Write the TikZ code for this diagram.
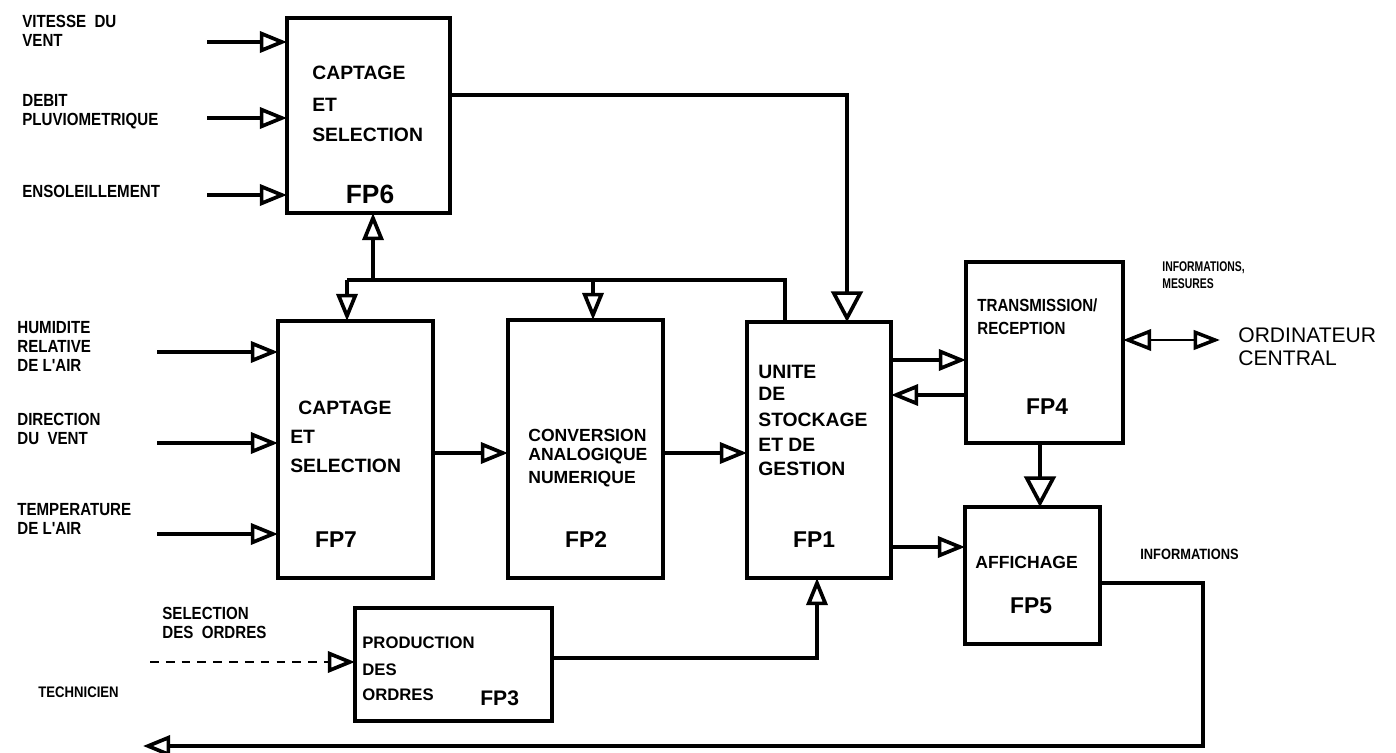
\documentclass[tikz,border=0pt]{standalone}
\usepackage{fontspec}
\setmainfont{Liberation Sans}
\newfontfamily\narrowfont[FakeStretch=0.86]{Liberation Sans}
\newfontfamily\tightfont[FakeStretch=0.74]{Liberation Sans}
\usetikzlibrary{arrows.meta}

\begin{document}
\begin{tikzpicture}[x=0.02cm,y=-0.02cm,
    blockbox/.style={draw,line width=2.4pt,inner sep=0pt,outer sep=0pt},
    boxtext/.style={anchor=west,inner sep=0pt,font=\bfseries\fontsize{11}{13}\selectfont},
    fplabel/.style={inner sep=0pt,font=\bfseries\fontsize{13}{15}\selectfont},
    sidelabel/.style={anchor=west,inner sep=0pt,align=left,font=\narrowfont\bfseries\fontsize{10}{10.8}\selectfont},
    wire/.style={line width=1.8pt},
    flow/.style={wire,-{Triangle[open,length=15.5pt,width=12pt,line width=2.1pt]}},
    bigflow/.style={wire,-{Triangle[open,length=17.5pt,width=18pt,line width=2.1pt]}},
    dualflow/.style={line width=1.1pt,{Triangle[open,length=16pt,width=12pt,line width=2pt]}-{Triangle[open,length=15pt,width=11pt,line width=2pt]}}]
  \useasboundingbox (0,0) rectangle (1396,753);

  % function blocks
  \node[blockbox,minimum width=3.26cm,minimum height=3.90cm] (fp6) at (368.5,115.5) {};
  \node[blockbox,minimum width=3.10cm,minimum height=5.14cm] (fp7) at (355.5,449.5) {};
  \node[blockbox,minimum width=3.10cm,minimum height=5.16cm] (fp2) at (585.5,449) {};
  \node[blockbox,minimum width=2.88cm,minimum height=5.12cm] (fp1) at (819,450) {};
  \node[blockbox,minimum width=3.14cm,minimum height=3.62cm] (fp4) at (1044.5,352.5) {};
  \node[blockbox,minimum width=2.70cm,minimum height=2.74cm] (fp5) at (1032.5,575.5) {};
  \node[blockbox,minimum width=3.94cm,minimum height=2.26cm] (fp3) at (453.5,664.5) {};

  % texts in the blocks
  \node[boxtext] (fp6a) at (312,73) {CAPTAGE};
  \node[boxtext] (fp6b) at (312,105) {ET};
  \node[boxtext] (fp6c) at (312,135) {SELECTION};
  \node[fplabel,font=\bfseries\fontsize{15}{17}\selectfont] (fp6n) at (370,194) {FP6};
  \node[boxtext] (fp7a) at (298,408) {CAPTAGE};
  \node[boxtext] (fp7b) at (290,437) {ET};
  \node[boxtext] (fp7c) at (290,466) {SELECTION};
  \node[fplabel] (fp7n) at (336,540) {FP7};
  \node[boxtext,font=\bfseries\fontsize{10}{12}\selectfont] (fp2a) at (528,435) {CONVERSION};
  \node[boxtext,font=\bfseries\fontsize{10}{12}\selectfont] (fp2b) at (528,456) {ANALOGIQUE};
  \node[boxtext,font=\bfseries\fontsize{10}{12}\selectfont] (fp2c) at (528,479) {NUMERIQUE};
  \node[fplabel] (fp2n) at (586,540) {FP2};
  \node[boxtext] (fp1a) at (758,372) {UNITE};
  \node[boxtext] (fp1b) at (758,394) {DE};
  \node[boxtext] (fp1c) at (758,420) {STOCKAGE};
  \node[boxtext] (fp1d) at (758,445) {ET DE};
  \node[boxtext] (fp1e) at (758,469) {GESTION};
  \node[fplabel] (fp1n) at (814,540) {FP1};
  \node[sidelabel] (fp4a) at (977,305) {TRANSMISSION/};
  \node[sidelabel] (fp4b) at (977,328) {RECEPTION};
  \node[fplabel] (fp4n) at (1047,407) {FP4};
  \node[boxtext,font=\bfseries\fontsize{10}{12}\selectfont] (fp5a) at (975,562) {AFFICHAGE};
  \node[fplabel] (fp5n) at (1031,606) {FP5};
  \node[boxtext,font=\bfseries\fontsize{9.5}{11}\selectfont] (fp3a) at (362,643) {PRODUCTION};
  \node[boxtext,font=\bfseries\fontsize{9.5}{11}\selectfont] (fp3b) at (362,670) {DES};
  \node[boxtext,font=\bfseries\fontsize{9.5}{11}\selectfont] (fp3c) at (362,695) {ORDRES};
  \node[fplabel,anchor=west,font=\bfseries\fontsize{12}{14}\selectfont] (fp3n) at (480,698) {FP3};

  % outside labels
  \node[sidelabel] (vitessetxt) at (22,30.5) {VITESSE\ \ DU\\VENT};
  \node[sidelabel] (debittxt) at (22,112) {DEBIT\\PLUVIOMETRIQUE};
  \node[sidelabel] (soleiltxt) at (22,191) {ENSOLEILLEMENT};
  \node[sidelabel] (humidtxt) at (17,346) {HUMIDITE\\RELATIVE\\DE L'AIR};
  \node[sidelabel] (directtxt) at (17,429) {DIRECTION\\DU\ \ VENT};
  \node[sidelabel] (temptxt) at (17,519) {TEMPERATURE\\DE L'AIR};
  \node[sidelabel] (seltxt) at (162,623) {SELECTION\\DES\ \ ORDRES};
  \node[sidelabel,font=\narrowfont\bfseries\fontsize{8.7}{10}\selectfont] (techtxt) at (38,692) {TECHNICIEN};
  \node[sidelabel,font=\tightfont\bfseries\fontsize{8}{10}\selectfont] (mestxt) at (1162,275) {INFORMATIONS,\\MESURES};
  \node[sidelabel,font=\narrowfont\bfseries\fontsize{8.5}{10}\selectfont] (inftxt) at (1140,554) {INFORMATIONS};
  \node[sidelabel,font=\fontsize{12}{13}\selectfont] (orditxt) at (1238,346.5) {ORDINATEUR\\CENTRAL};

  % free ends
  \coordinate (vitesse) at (207,42);
  \coordinate (debit) at (207,118);
  \coordinate (soleil) at (207,195);
  \coordinate (humid) at (157,352);
  \coordinate (direct) at (157,443);
  \coordinate (temp) at (157,534);
  \coordinate (sel) at (150,662);
  \coordinate (tech) at (143,746);
  \coordinate (ordi) at (1220,340);

  % sensor inputs
  \foreach \c in {vitesse,debit,soleil}
    \draw[flow] (\c) -- (\c -| fp6.west);
  \foreach \c in {humid,direct,temp}
    \draw[flow] (\c) -- (\c -| fp7.west);

  % control bus
  \coordinate (busL) at (347,280);
  \coordinate (busU) at (373,280);
  \coordinate (busM) at (593,280);
  \coordinate (busR) at (785,280);
  \draw[wire] (busR |- fp1.north) -- (busR) -- (busL);
  \draw[flow] (busL) -- (busL |- fp7.north);
  \draw[flow] (busM) -- (busM |- fp2.north);
  \draw[flow] (busU) -- (busU |- fp6.south);

  % data path
  \coordinate (c61) at (847,95);
  \draw[bigflow] (c61 -| fp6.east) -- (c61) -- (c61 |- fp1.north);
  \coordinate (row) at (0,453);
  \draw[flow] (fp7.east |- row) -- (fp2.west |- row);
  \draw[flow] (fp2.east |- row) -- (fp1.west |- row);
  \coordinate (tx) at (0,360);
  \coordinate (rx) at (0,395);
  \draw[flow] (fp1.east |- tx) -- (fp4.west |- tx);
  \draw[flow] (fp4.west |- rx) -- (fp1.east |- rx);
  \draw[dualflow] (fp4.east |- ordi) -- (ordi);
  \coordinate (c45) at (1040,0);
  \draw[bigflow] (c45 |- fp4.south) -- (c45 |- fp5.north);
  \coordinate (disp) at (0,547);
  \draw[flow] (fp1.east |- disp) -- (fp5.west |- disp);

  % orders
  \draw[flow,line width=0.8pt,dash pattern=on 5pt off 4pt] (sel) -- (sel -| fp3.west);
  \coordinate (c31) at (817,658);
  \draw[flow] (fp3.east |- c31) -- (c31) -- (c31 |- fp1.south);

  % return to the technician
  \coordinate (ret) at (1203,583);
  \draw[flow] (fp5.east |- ret) -- (ret) -- (ret |- tech) -- (tech);
\end{tikzpicture}
\end{document}
